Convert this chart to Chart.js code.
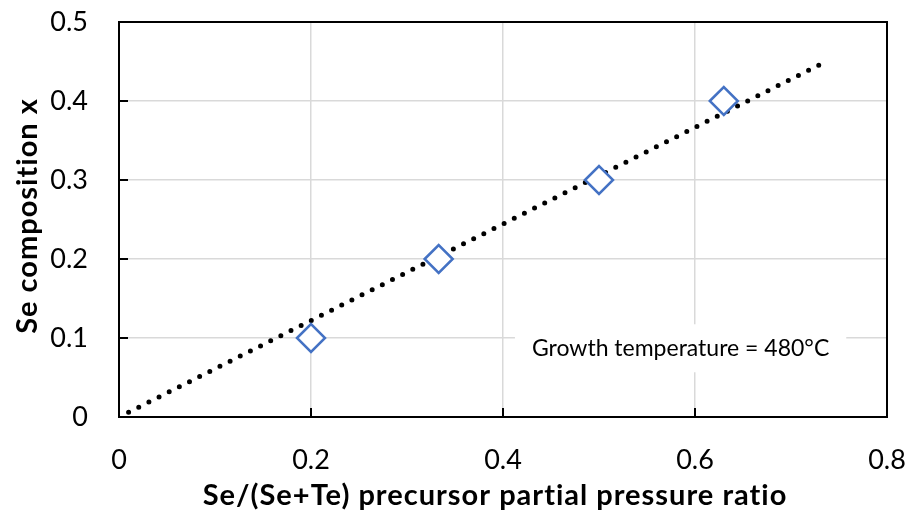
<!DOCTYPE html>
<html>
<head>
<meta charset="utf-8">
<script src="https://cdn.jsdelivr.net/npm/chart.js@4.4.1/dist/chart.umd.min.js"></script>
<style>
  html, body { margin: 0; padding: 0; background: #fff; }
  #wrap { width: 909px; height: 513px; position: relative; }
</style>
</head>
<body>
<div id="wrap"><canvas id="seChart"></canvas></div>
<script>
// measured points: Se/(Se+Te) ratio vs Se composition x
const ratioX = [0.2, 0.333, 0.5, 0.63];
const seCompY = [0.1, 0.2, 0.3, 0.4];

// dotted trend line, ends
const trendX = [0.01, 0.73];
const trendY = [0.006, 0.446];

const xTicks = [0, 0.2, 0.4, 0.6, 0.8];
const yTicks = [0, 0.1, 0.2, 0.3, 0.4, 0.5];

const xTitle = 'Se/(Se+Te) precursor partial pressure ratio';
const yTitle = 'Se composition x';
const noteText = 'Growth temperature = 480°C';

const FONT = 'Lato, "Open Sans", sans-serif';

// frame, inner tick marks, axis titles and note box
const decoPlugin = {
    id: 'deco',
    afterDraw(chart) {
        const { ctx, chartArea: a, scales } = chart;
        ctx.save();
        ctx.strokeStyle = '#000';
        ctx.lineWidth = 2;
        ctx.strokeRect(a.left, a.top, a.right - a.left, a.bottom - a.top);

        // short ticks pointing into the plot
        ctx.beginPath();
        xTicks.forEach(v => {
            const px = scales.x.getPixelForValue(v);
            ctx.moveTo(px, a.bottom);
            ctx.lineTo(px, a.bottom - 9);
        });
        yTicks.forEach(v => {
            const py = scales.y.getPixelForValue(v);
            ctx.moveTo(a.left, py);
            ctx.lineTo(a.left + 9, py);
        });
        ctx.stroke();

        // note box
        ctx.font = '23px ' + FONT;
        ctx.textAlign = 'center';
        ctx.textBaseline = 'middle';
        const nx = scales.x.getPixelForValue(0.585);
        const ny = scales.y.getPixelForValue(0.087);
        const w = ctx.measureText(noteText).width;
        ctx.fillStyle = '#fff';
        ctx.fillRect(nx - w / 2 - 17, ny - 24, w + 34, 48);
        ctx.fillStyle = '#000';
        ctx.fillText(noteText, nx, ny);

        // axis titles
        ctx.font = 'bold 29px ' + FONT;
        ctx.letterSpacing = '1px';
        ctx.fillText(xTitle, 495, 496);
        ctx.translate(28, 216);
        ctx.rotate(-Math.PI / 2);
        ctx.fillText(yTitle, 0, 0);
        ctx.restore();
    }
};

const ctx = document.getElementById('seChart').getContext('2d');
const seChart = new Chart(ctx, {
    type: 'scatter',
    data: {
        datasets: [{
            label: 'trend',
            data: trendX.map((x, i) => ({ x: x, y: trendY[i] })),
            showLine: true,
            borderColor: '#000',
            borderWidth: 5,
            borderDash: [0, 11.36],
            borderCapStyle: 'round',
            pointRadius: 0,
            order: 2
        }, {
            label: 'Se composition',
            data: ratioX.map((x, i) => ({ x: x, y: seCompY[i] })),
            pointStyle: 'rectRot',
            pointRadius: 14,
            pointBorderWidth: 2.5,
            pointBorderColor: '#4472C4',
            pointBackgroundColor: '#fff',
            order: 1
        }]
    },
    options: {
        responsive: true,
        maintainAspectRatio: false,
        animation: false,
        layout: { padding: { top: 22, right: 22, left: 0, bottom: 0 } },
        plugins: {
            legend: { display: false },
            tooltip: { enabled: false }
        },
        scales: {
            x: {
                type: 'linear',
                min: 0,
                max: 0.8,
                afterBuildTicks: s => { s.ticks = xTicks.map(v => ({ value: v })); },
                afterFit: s => { s.height = 96; s.paddingLeft = 0; s.paddingRight = 0; },
                grid: { color: '#d9d9d9', lineWidth: 1.5, drawTicks: false },
                border: { display: false },
                ticks: {
                    color: '#000',
                    padding: 27,
                    font: { family: FONT, size: 27 },
                    callback: v => String(Math.round(v * 10) / 10)
                }
            },
            y: {
                type: 'linear',
                min: 0,
                max: 0.5,
                afterBuildTicks: s => { s.ticks = yTicks.map(v => ({ value: v })); },
                afterFit: s => { s.width = 119; s.paddingTop = 0; s.paddingBottom = 0; },
                grid: { color: '#d9d9d9', lineWidth: 1.5, drawTicks: false },
                border: { display: false },
                ticks: {
                    color: '#000',
                    padding: 31,
                    font: { family: FONT, size: 27 },
                    callback: v => String(Math.round(v * 10) / 10)
                }
            }
        }
    },
    plugins: [decoPlugin]
});
</script>
</body>
</html>
